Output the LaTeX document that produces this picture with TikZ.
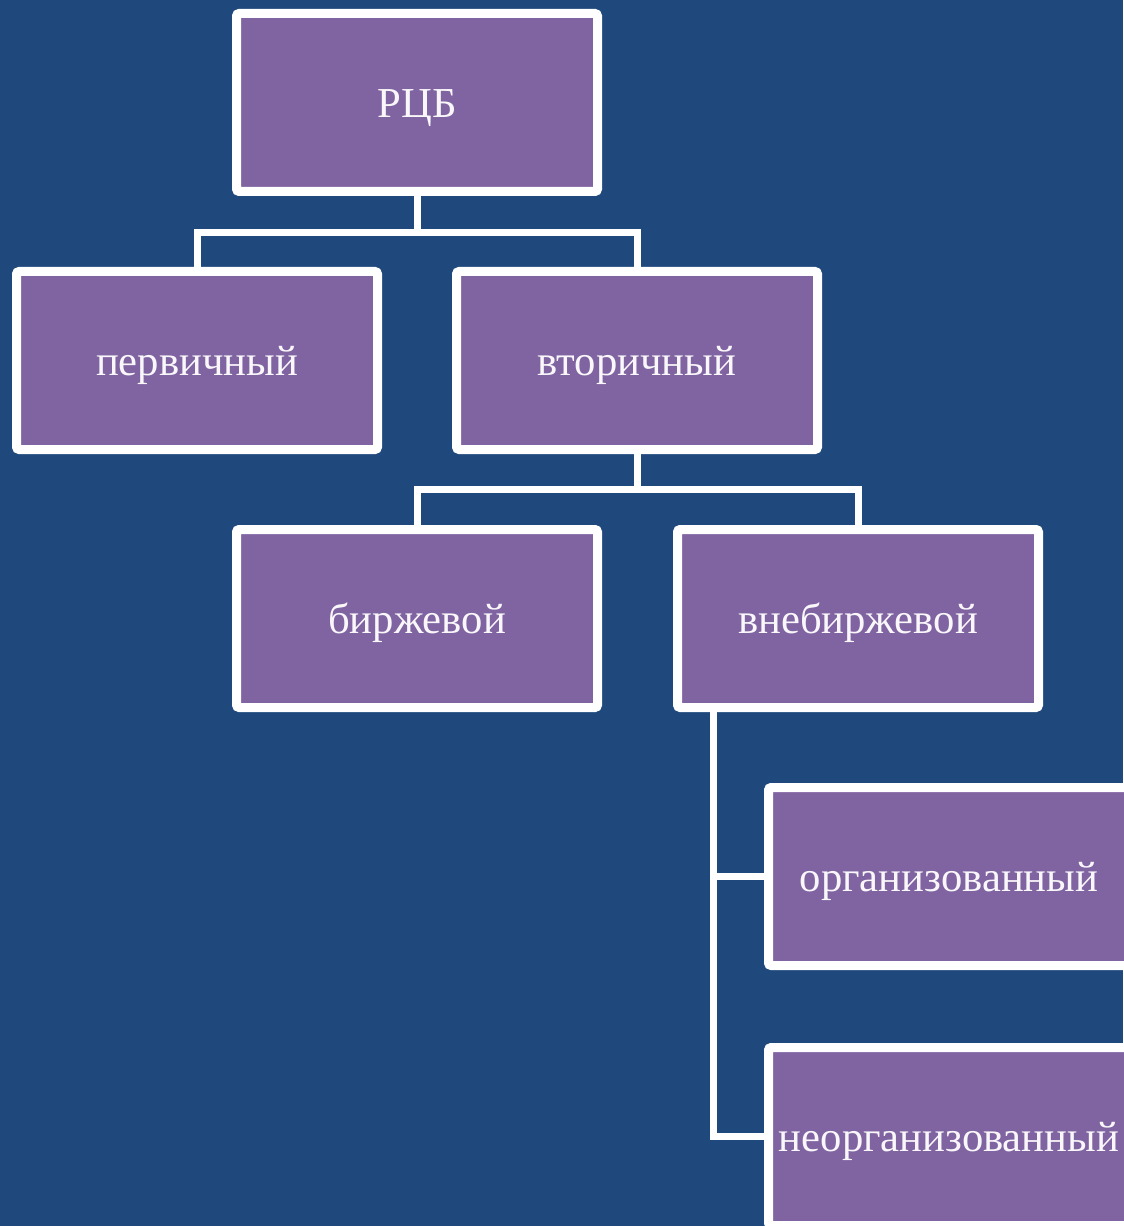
\documentclass[tikz,border=0pt]{standalone}
\usepackage{fontspec}
\setmainfont{Liberation Serif}
\usetikzlibrary{shadows}
\definecolor{bgblue}{RGB}{31,73,125}
\definecolor{boxviolet}{RGB}{128,100,162}

\begin{document}
\begin{tikzpicture}[x=0.75pt, y=-0.75pt,
    box/.style={draw=white, fill=boxviolet, line width=6.75pt, rounded corners=2pt,
        minimum width=270.75pt, minimum height=133.5pt, text=white!95!boxviolet,
        font=\fontsize{32}{36}\selectfont, text height=22pt, text depth=0pt,
        drop shadow={opacity=0.35, shadow xshift=2pt, shadow yshift=-2pt}},
    link/.style={draw=white, line width=5.25pt}]
    \fill[bgblue] (0,0) rectangle (1123,1226);
    \useasboundingbox (0,0) rectangle (1123,1226);

    % Nodes
    \node (rcb)   [box] at (417,102.5)  {РЦБ};
    \node (perv)  [box] at (197,360.5)  {первичный};
    \node (vtor)  [box] at (637,360.5)  {вторичный};
    \node (birzh) [box] at (417,618.5)  {биржевой};
    \node (vneb)  [box] at (858,618.5)  {внебиржевой};
    \node (org)   [box] at (949,876.5)  {организованный};
    \node (neorg) [box] at (949,1136.5) {неорганизованный};

    % Lines
    \draw[link] (rcb.south) -- ++(0,36.5) -| (perv.north);
    \draw[link] (rcb.south) ++(0,36.5) -| (vtor.north);
    \draw[link] (vtor.south) -- ++(0,35) -| (birzh.north);
    \draw[link] (vtor.south) ++(0,35) -| (vneb.north);
    \draw[link] ([xshift=30pt]vneb.south west) |- (org.west);
    \draw[link] ([xshift=30pt]vneb.south west) |- (neorg.west);
\end{tikzpicture}
\end{document}
